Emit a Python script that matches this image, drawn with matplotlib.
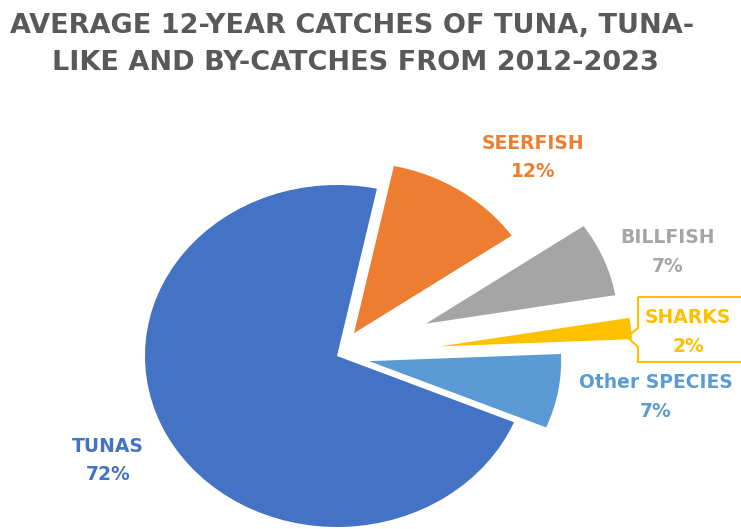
import matplotlib as mpl
mpl.use('Agg')
import matplotlib.pyplot as plt
from matplotlib.patches import Polygon

# average 12-year catches, share of total (%)
species = ['SEERFISH', 'BILLFISH', 'SHARKS', 'Other SPECIES', 'TUNAS']
shares = [12, 7, 2, 7, 72]
colors = ['#ED7D31', '#A5A5A5', '#FFC000', '#5B9BD5', '#4472C4']
explode = [0.16, 0.5, 0.54, 0.17, 0.0]

# label anchors in pixels: x centre, baseline of name line, baseline of % line
label_pos = [(533, 149, 177), (668, 243, 272), (688, 323, 352),
             (656, 388, 417), (108, 452, 480)]

title_lines = ['AVERAGE 12-YEAR CATCHES OF TUNA, TUNA-',
               'LIKE AND BY-CATCHES FROM 2012-2023']

W, H = 741, 529
fig = plt.figure(figsize=(W / 100, H / 100), dpi=100)
ax = fig.add_axes([0, 0, 1, 1])

# pie centre at pixel (337, 356), drawn a bit wider than tall like the original
cx, cy, rx, ry = 337, 356, 192, 171
ax.pie(shares, colors=colors, explode=explode, startangle=78,
       counterclock=False, radius=1, center=(0, 0),
       wedgeprops=dict(linewidth=0))
ax.set_aspect('auto')
ax.set_xlim(-cx / rx, (W - cx) / rx)
ax.set_ylim((cy - H) / ry, cy / ry)
ax.axis('off')

font = 'DejaVu Sans'

def px(x, y):
    return x / W, 1 - y / H

for line, (x, y) in zip(title_lines, [(352, 33), (355, 70)]):
    fig.text(*px(x, y), line, ha='center', va='baseline', fontsize=19.5,
             fontweight='bold', color='#595959', family=font)

for name, val, col, (x, y1, y2) in zip(species, shares, colors, label_pos):
    fig.text(*px(x, y1), name, ha='center', va='baseline', fontsize=13.5,
             fontweight='bold', color=col, family=font)
    fig.text(*px(x, y2), '%d%%' % val, ha='center', va='baseline', fontsize=13.5,
             fontweight='bold', color=col, family=font)

# callout box around the SHARKS label
box = [(638, 297), (745, 297), (745, 362), (638, 362), (638, 347),
       (627, 337), (638, 328)]
fig.patches.append(Polygon([px(x, y) for x, y in box], closed=True,
                           fill=False, edgecolor='#FFC000', linewidth=1.5,
                           transform=fig.transFigure, figure=fig))

plt.savefig('out.png', dpi=100)
